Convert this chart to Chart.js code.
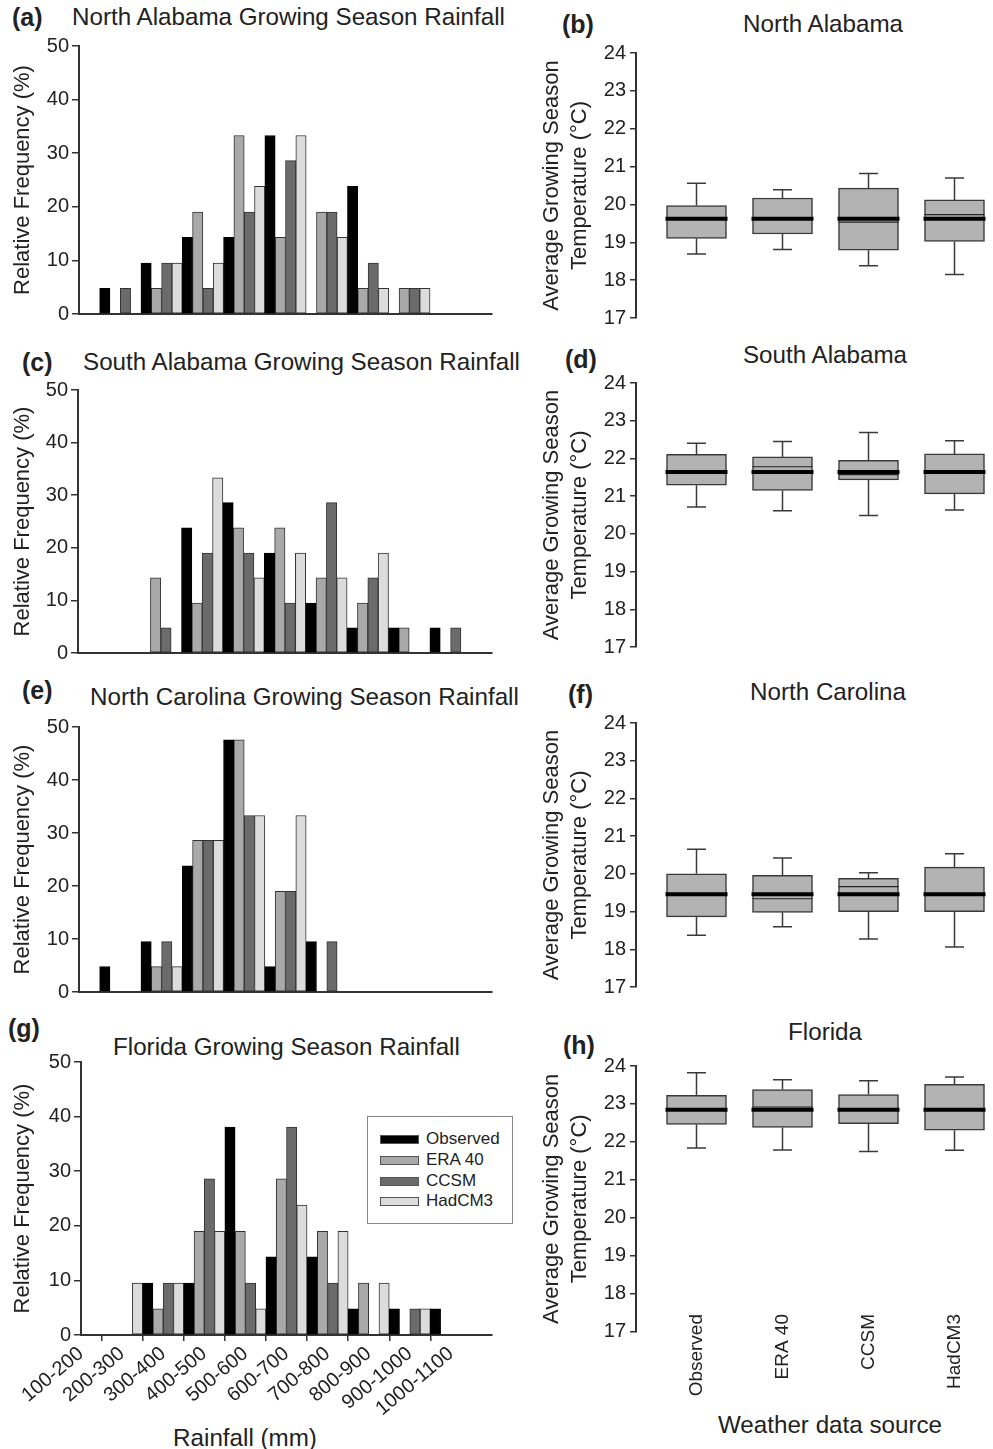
<!DOCTYPE html>
<html><head><meta charset="utf-8">
<script src="https://cdn.jsdelivr.net/npm/chart.js@4.4.0/dist/chart.umd.min.js"></script>
<style>
html,body{margin:0;padding:0;}
body{width:993px;height:1449px;overflow:hidden;background:#fff;position:relative;font-family:"Liberation Sans",Arial,sans-serif;color:#222;}
canvas{position:absolute;}
.t{position:absolute;white-space:nowrap;font-size:24.2px;line-height:28px;transform:translateY(-50%);}
.tc{position:absolute;white-space:nowrap;font-size:24.2px;line-height:28px;transform:translate(-50%,-50%);}
.l{position:absolute;white-space:nowrap;font-weight:bold;font-size:25px;line-height:28px;transform:translateY(-50%);}
#legend{position:absolute;left:367px;top:1116px;width:144px;height:106px;border:1px solid #888;background:#fff;z-index:5;}
.row{position:absolute;left:0;width:100%;height:20px;transform:translateY(-50%);}
.sw{position:absolute;left:12px;top:6px;width:37px;height:7px;border:1px solid #555;}
.lt{position:absolute;left:58px;top:0;font-size:17px;line-height:20px;}
</style></head>
<body>
<div class="l" style="left:12px;top:17px">(a)</div>
<div class="t" style="left:72px;top:17px">North Alabama Growing Season Rainfall</div>
<div class="l" style="left:562px;top:24px">(b)</div>
<div class="tc" style="left:823px;top:24px">North Alabama</div>
<div class="l" style="left:22px;top:362px">(c)</div>
<div class="t" style="left:83px;top:362px">South Alabama Growing Season Rainfall</div>
<div class="l" style="left:565px;top:359px">(d)</div>
<div class="tc" style="left:825px;top:355px">South Alabama</div>
<div class="l" style="left:22px;top:690px">(e)</div>
<div class="t" style="left:90px;top:697px">North Carolina Growing Season Rainfall</div>
<div class="l" style="left:568px;top:694px">(f)</div>
<div class="tc" style="left:828px;top:692px">North Carolina</div>
<div class="l" style="left:8px;top:1028px">(g)</div>
<div class="t" style="left:113px;top:1047px">Florida Growing Season Rainfall</div>
<div class="l" style="left:563px;top:1045px">(h)</div>
<div class="tc" style="left:825px;top:1032px">Florida</div>
<div class="tc" style="left:245px;top:1438px">Rainfall (mm)</div>
<div class="tc" style="left:830px;top:1425px">Weather data source</div>
<div id="legend"></div>

<canvas id="ca"></canvas><canvas id="cc"></canvas><canvas id="ce"></canvas><canvas id="cg"></canvas>
<canvas id="cb"></canvas><canvas id="cd"></canvas><canvas id="cf"></canvas><canvas id="ch"></canvas>
<script>
// ---------- data ----------
const rainBins = ['100-200','200-300','300-400','400-500','500-600','600-700','700-800','800-900','900-1000','1000-1100'];
const sources = ['Observed','ERA 40','CCSM','HadCM3'];
const sourceColors = ['#000000','#a9a9a9','#6b6b6b','#dcdcdc'];

// Relative frequency (%) per rainfall bin
const naObserved = [0,4.8,9.5,14.3,14.3,33.3,0,23.8,0,0];
const naEra40    = [0,0,4.8,19.0,33.3,14.3,19.0,4.8,4.8,0];
const naCcsm     = [0,4.8,9.5,4.8,19.0,28.6,19.0,9.5,4.8,0];
const naHadcm3   = [0,0,9.5,9.5,23.8,33.3,14.3,4.8,4.8,0];

const saObserved = [0,0,0,23.8,28.6,19.0,9.5,4.8,4.8,4.8];
const saEra40    = [0,0,14.3,9.5,23.8,23.8,14.3,9.5,4.8,0];
const saCcsm     = [0,0,4.8,19.0,19.0,9.5,28.6,14.3,0,4.8];
const saHadcm3   = [0,0,0,33.3,14.3,19.0,14.3,19.0,0,0];

const ncObserved = [0,4.8,9.5,23.8,47.6,4.8,9.5,0,0,0];
const ncEra40    = [0,0,4.8,28.6,47.6,19.0,0,0,0,0];
const ncCcsm     = [0,0,9.5,28.6,33.3,19.0,9.5,0,0,0];
const ncHadcm3   = [0,0,4.8,28.6,33.3,33.3,0,0,0,0];

const flObserved = [0,0,9.5,9.5,38.1,14.3,14.3,4.8,4.8,4.8];
const flEra40    = [0,0,4.8,19.0,19.0,28.6,19.0,9.5,0,0];
const flCcsm     = [0,0,9.5,28.6,9.5,38.1,9.5,0,4.8,0];
const flHadcm3   = [0,9.5,9.5,19.0,4.8,23.8,19.0,9.5,4.8,0];

// Growing season temperature (°C) box statistics, order: Observed, ERA 40, CCSM, HadCM3
const naTMin  = [18.69,18.81,18.38,18.15];
const naTQ1   = [19.10,19.22,18.79,19.02];
const naTMed  = [19.62,19.62,19.53,19.73];
const naTQ3   = [19.97,20.17,20.43,20.12];
const naTMax  = [20.56,20.39,20.82,20.70];
const naTMean = [19.62,19.62,19.62,19.62];

const saTMin  = [20.71,20.61,20.49,20.63];
const saTQ1   = [21.29,21.15,21.43,21.06];
const saTMed  = [21.64,21.78,21.57,21.66];
const saTQ3   = [22.11,22.04,21.95,22.12];
const saTMax  = [22.40,22.45,22.69,22.47];
const saTMean = [21.64,21.64,21.64,21.64];

const ncTMin  = [18.37,18.60,18.27,18.06];
const ncTQ1   = [18.86,18.98,19.00,19.00];
const ncTMed  = [19.46,19.34,19.66,19.46];
const ncTQ3   = [20.00,19.96,19.88,20.18];
const ncTMax  = [20.65,20.42,20.03,20.53];
const ncTMean = [19.46,19.46,19.46,19.46];

const flTMin  = [21.84,21.79,21.75,21.78];
const flTQ1   = [22.46,22.38,22.48,22.31];
const flTMed  = [22.85,22.92,22.83,22.85];
const flTQ3   = [23.23,23.38,23.25,23.52];
const flTMax  = [23.82,23.64,23.61,23.71];
const flTMean = [22.85,22.85,22.85,22.85];

const freqTicks = [0,10,20,30,40,50];
const tempTicks = [17,18,19,20,21,22,23,24];

// ---------- setup ----------
const FONT = '"Liberation Sans", Arial, sans-serif';
Chart.defaults.font.family = FONT;
Chart.defaults.color = '#222';
const AX = '#333';

function place(id, left, top, w, h) {
  const c = document.getElementById(id);
  c.width = w; c.height = h;
  c.style.left = left + 'px'; c.style.top = top + 'px';
  return c;
}

function histogram(id, area, series, bottom) {
  const padTop = 20;
  const xh = bottom ? 100 : 6;
  const padBottom = bottom ? 0 : 14;
  const W = 520;
  const H = padTop + (area.b - area.t) + xh + padBottom;
  const c = place(id, 0, area.t - padTop, W, H);
  new Chart(c, {
    type: 'bar',
    data: {
      labels: rainBins.concat(['']),
      datasets: series.map((d, i) => ({
        label: sources[i], data: d,
        backgroundColor: sourceColors[i],
        borderColor: i === 0 ? '#000' : '#333',
        borderWidth: 1, borderSkipped: false,
        categoryPercentage: 1, barPercentage: 1
      }))
    },
    options: {
      responsive: false, animation: false,
      layout: { padding: { left: 0, top: padTop, right: W - area.r, bottom: padBottom } },
      plugins: { legend: { display: false }, tooltip: { enabled: false } },
      scales: {
        x: {
          type: 'category', offset: false,
          afterFit: s => { s.height = xh; },
          grid: { display: bottom, drawOnChartArea: false, drawTicks: bottom, tickLength: 6, lineWidth: 1.5,
                  color: ctx => ctx.index === rainBins.length ? 'rgba(0,0,0,0)' : AX },
          border: { display: true, color: AX, width: 2 },
          ticks: { display: bottom, autoSkip: false, minRotation: 40, maxRotation: 40, padding: 1,
                   font: { size: 20 }, color: '#222' }
        },
        y: {
          min: freqTicks[0], max: freqTicks[freqTicks.length - 1],
          afterFit: s => { s.width = area.l; },
          afterBuildTicks: s => { s.ticks = freqTicks.map(v => ({ value: v })); },
          grid: { display: true, drawOnChartArea: false, drawTicks: true, tickLength: 7, color: AX, lineWidth: 1.5 },
          border: { display: true, color: AX, width: 2 },
          ticks: { font: { size: 20 }, color: '#222', padding: 3 },
          title: { display: true, text: 'Relative Frequency (%)', font: { size: 22 }, color: '#222', padding: { top: 10, bottom: 0 } }
        }
      }
    }
  });
}

const boxPlugin = {
  id: 'boxExtras',
  afterDatasetsDraw(chart) {
    const ds = chart.data.datasets[0];
    const st = ds.stats;
    const xs = chart.scales.x, ys = chart.scales.y, ctx = chart.ctx;
    const half = ds.barThickness / 2;
    const py = v => ys.getPixelForValue(v);
    ctx.save();
    st.q1.forEach((_, i) => {
      const x = xs.getPixelForValue(i);
      ctx.strokeStyle = '#3a3a3a'; ctx.lineWidth = 1.5;
      ctx.beginPath();
      ctx.moveTo(x, py(st.max[i])); ctx.lineTo(x, py(st.q3[i]));
      ctx.moveTo(x, py(st.q1[i])); ctx.lineTo(x, py(st.min[i]));
      ctx.moveTo(x - 9.5, py(st.max[i])); ctx.lineTo(x + 9.5, py(st.max[i]));
      ctx.moveTo(x - 9.5, py(st.min[i])); ctx.lineTo(x + 9.5, py(st.min[i]));
      ctx.stroke();
      ctx.lineWidth = 1.2; ctx.strokeStyle = '#222';
      ctx.beginPath();
      ctx.moveTo(x - half, py(st.med[i])); ctx.lineTo(x + half, py(st.med[i]));
      ctx.stroke();
      ctx.lineWidth = 4; ctx.strokeStyle = '#000';
      ctx.beginPath();
      ctx.moveTo(x - half - 1, py(st.mean[i])); ctx.lineTo(x + half + 1, py(st.mean[i]));
      ctx.stroke();
    });
    ctx.restore();
  }
};

// category labels of the box panels, drawn vertically at each source's x position
const sourceLabelPlugin = {
  id: 'sourceLabels',
  afterDraw(chart, args, opts) {
    if (!opts.show) return;
    const xs = chart.scales.x, ys = chart.scales.y, ctx = chart.ctx;
    ctx.save();
    ctx.font = '19px ' + FONT;
    ctx.fillStyle = '#222'; ctx.textAlign = 'right'; ctx.textBaseline = 'middle';
    sources.forEach((s, i) => {
      ctx.save();
      ctx.translate(xs.getPixelForValue(i), ys.bottom - opts.lift);
      ctx.rotate(-Math.PI / 2);
      ctx.fillText(s, 0, 0);
      ctx.restore();
    });
    ctx.restore();
  }
};

function boxPanel(id, area, st, bottom) {
  const padTop = 20;
  const left = 530;
  const W = area.r - left + 10;
  const xh = bottom ? (1449 - area.b) : 6;
  const padBottom = bottom ? 0 : 14;
  const H = padTop + (area.b - area.t) + xh + padBottom;
  const c = place(id, left, area.t - padTop, W, H);
  const x0 = 696.5, step = 86;
  new Chart(c, {
    type: 'bar',
    data: {
      datasets: [{
        data: st.q1.map((q, i) => ({ x: i, y: [q, st.q3[i]] })),
        stats: st,
        backgroundColor: '#b3b3b3', borderColor: '#3a3a3a', borderWidth: 1.5,
        borderSkipped: false, barThickness: 60
      }]
    },
    options: {
      responsive: false, animation: false,
      layout: { padding: { left: 0, top: padTop, right: 10, bottom: padBottom } },
      plugins: { legend: { display: false }, tooltip: { enabled: false },
                 sourceLabels: { show: bottom, lift: 17.7 } },
      scales: {
        x: {
          type: 'linear', offset: false,
          min: (area.l - x0) / step, max: (area.r - x0) / step,
          afterFit: s => { s.height = xh; },
          afterBuildTicks: s => { s.ticks = sources.map((_, i) => ({ value: i })); },
          grid: { display: false, drawTicks: false },
          border: { display: false },
          ticks: { display: false }
        },
        y: {
          min: tempTicks[0], max: tempTicks[tempTicks.length - 1],
          afterFit: s => { s.width = area.l - left; },
          afterBuildTicks: s => { s.ticks = tempTicks.map(v => ({ value: v })); },
          grid: { display: true, drawOnChartArea: false, drawTicks: true, tickLength: 6, color: AX, lineWidth: 1.5 },
          border: { display: true, color: AX, width: 2 },
          ticks: { font: { size: 20 }, color: '#222', padding: 4 },
          title: { display: true, text: ['Average Growing Season', 'Temperature (\u00B0C)'],
                   font: { size: 22, lineHeight: '28px' }, color: '#222', padding: { top: 8, bottom: 0 } }
        }
      }
    },
    plugins: [boxPlugin, sourceLabelPlugin]
  });
}

histogram('ca', { l: 79, r: 492, t: 45.7, b: 314.3 }, [naObserved, naEra40, naCcsm, naHadcm3], false);
histogram('cc', { l: 78, r: 492, t: 390, b: 653.3 }, [saObserved, saEra40, saCcsm, saHadcm3], false);
histogram('ce', { l: 79, r: 492, t: 726.7, b: 992.3 }, [ncObserved, ncEra40, ncCcsm, ncHadcm3], false);
histogram('cg', { l: 81, r: 492, t: 1061.7, b: 1335 }, [flObserved, flEra40, flCcsm, flHadcm3], true);

boxPanel('cb', { l: 636, r: 1016, t: 53.3, b: 318.3 },
  { min: naTMin, q1: naTQ1, med: naTMed, q3: naTQ3, max: naTMax, mean: naTMean }, false);
boxPanel('cd', { l: 636, r: 1016, t: 383.3, b: 648.3 },
  { min: saTMin, q1: saTQ1, med: saTMed, q3: saTQ3, max: saTMax, mean: saTMean }, false);
boxPanel('cf', { l: 636, r: 1016, t: 722.7, b: 987.3 },
  { min: ncTMin, q1: ncTQ1, med: ncTMed, q3: ncTQ3, max: ncTMax, mean: ncTMean }, false);
boxPanel('ch', { l: 636, r: 1016, t: 1065.7, b: 1331.7 },
  { min: flTMin, q1: flTQ1, med: flTMed, q3: flTQ3, max: flTMax, mean: flTMean }, true);

// legend built from the series arrays
const lg = document.getElementById('legend');
const rowY = [22, 42.7, 64, 84];
sources.forEach((s, i) => {
  const r = document.createElement('div');
  r.className = 'row'; r.style.top = rowY[i] + 'px';
  r.innerHTML = '<div class="sw" style="background:' + sourceColors[i] + '"></div><div class="lt">' + s + '</div>';
  lg.appendChild(r);
});
</script>
</body></html>
